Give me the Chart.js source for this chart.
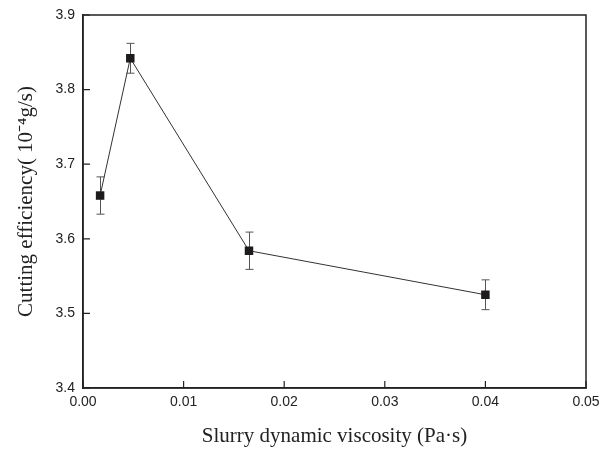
<!DOCTYPE html>
<html>
<head>
<meta charset="utf-8">
<script src="https://cdn.jsdelivr.net/npm/chart.js@4/dist/chart.umd.min.js"></script>
<style>
  html, body { margin: 0; padding: 0; background: #fff; }
  #wrap { width: 601px; height: 449px; }
</style>
</head>
<body>
<div id="wrap"><canvas id="myChart" width="601" height="449"></canvas></div>
<script>
// data
const viscosity = [0.0017, 0.0047, 0.0165, 0.0400];   // Pa·s
const efficiency = [3.658, 3.842, 3.584, 3.525];      // 10^-4 g/s
const errorBars = [0.025, 0.020, 0.025, 0.020];
const xTicks = [0, 0.01, 0.02, 0.03, 0.04, 0.05];
const yTicks = [3.4, 3.5, 3.6, 3.7, 3.8, 3.9];

const axisColor = '#222';

// error bars, inward tick marks and the closed frame
const framePlugin = {
  id: 'frame',
  beforeDatasetsDraw(chart) {
    const ctx = chart.ctx;
    const xs = chart.scales.x, ys = chart.scales.y;
    ctx.save();
    ctx.strokeStyle = '#555';
    ctx.lineWidth = 1;
    viscosity.forEach((v, i) => {
      const px = Math.round(xs.getPixelForValue(v)) + 0.5;
      const top = ys.getPixelForValue(efficiency[i] + errorBars[i]);
      const bot = ys.getPixelForValue(efficiency[i] - errorBars[i]);
      ctx.beginPath();
      ctx.moveTo(px, top); ctx.lineTo(px, bot);
      ctx.moveTo(px - 4, top); ctx.lineTo(px + 4, top);
      ctx.moveTo(px - 4, bot); ctx.lineTo(px + 4, bot);
      ctx.stroke();
    });
    ctx.restore();
  },
  afterDraw(chart) {
    const ctx = chart.ctx;
    const a = chart.chartArea;
    const xs = chart.scales.x, ys = chart.scales.y;
    ctx.save();
    ctx.strokeStyle = axisColor;
    ctx.lineWidth = 1.5;
    ctx.strokeRect(a.left, a.top, a.right - a.left, a.bottom - a.top);
    ctx.lineWidth = 1.2;
    ctx.beginPath();
    xTicks.forEach(t => {
      const px = xs.getPixelForValue(t);
      ctx.moveTo(px, a.bottom); ctx.lineTo(px, a.bottom - 7);
    });
    yTicks.forEach(t => {
      const py = ys.getPixelForValue(t);
      ctx.moveTo(a.left, py); ctx.lineTo(a.left + 7, py);
    });
    ctx.stroke();
    ctx.restore();
  }
};

const ctx = document.getElementById('myChart');
const myChart = new Chart(ctx, {
  type: 'line',
  data: {
    datasets: [{
      data: viscosity.map((v, i) => ({ x: v, y: efficiency[i] })),
      borderColor: '#333',
      borderWidth: 1,
      backgroundColor: '#1e1b1c',
      pointStyle: 'rect',
      pointRadius: 6,
      pointBorderWidth: 0,
      pointBackgroundColor: '#1e1b1c',
      tension: 0
    }]
  },
  options: {
    responsive: false,
    animation: false,
    layout: { padding: { top: 15, right: 15, left: 0, bottom: 0 } },
    plugins: { legend: { display: false }, tooltip: { enabled: false } },
    scales: {
      x: {
        type: 'linear',
        min: 0, max: 0.05,
        afterBuildTicks: s => { s.ticks = xTicks.map(v => ({ value: v })); },
        afterFit: s => { s.height = 61; s.paddingRight = 0; s.paddingLeft = 0; },
        grid: { display: false, drawTicks: false },
        border: { display: true, color: axisColor, width: 1.5 },
        ticks: {
          padding: 6,
          color: '#222',
          font: { family: 'Liberation Sans, Arial, sans-serif', size: 14 },
          callback: v => Number(v).toFixed(2)
        },
        title: {
          display: true,
          text: 'Slurry dynamic viscosity (Pa·s)',
          color: '#222',
          padding: { top: 0, bottom: 0 },
          font: { family: 'Liberation Serif, Times New Roman, serif', size: 21 }
        }
      },
      y: {
        min: 3.4, max: 3.9,
        afterBuildTicks: s => { s.ticks = yTicks.map(v => ({ value: v })); },
        afterFit: s => { s.width = 83; s.paddingTop = 0; s.paddingBottom = 0; },
        grid: { display: false, drawTicks: false },
        border: { display: true, color: axisColor, width: 1.5 },
        ticks: {
          padding: 8,
          color: '#222',
          font: { family: 'Liberation Sans, Arial, sans-serif', size: 14 },
          callback: v => Number(v).toFixed(1)
        },
        title: {
          display: true,
          text: 'Cutting efficiency( 10⁻⁴g/s)',
          color: '#222',
          padding: { top: 14, bottom: 0 },
          font: { family: 'Liberation Serif, Times New Roman, serif', size: 21 }
        }
      }
    }
  },
  plugins: [framePlugin]
});
</script>
</body>
</html>
